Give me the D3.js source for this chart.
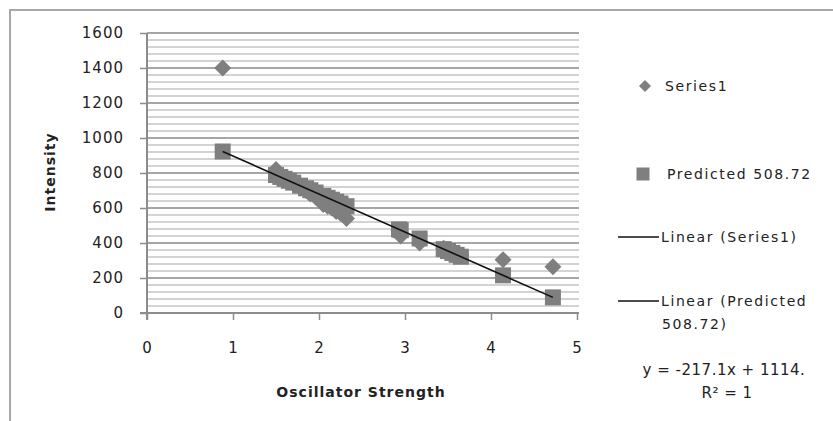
<!DOCTYPE html>
<html><head><meta charset="utf-8">
<script src="https://cdn.jsdelivr.net/npm/d3@7"></script>
<style>
body{margin:0;background:#fff;}
text{font-family:"DejaVu Sans",sans-serif;fill:#222;}
</style></head>
<body><svg id="c" width="833" height="421"></svg>
<script>
// Data
const oscStrength = [0.88, 1.50, 1.55, 1.60, 1.65, 1.70, 1.78, 1.85, 1.90, 1.96, 2.05, 2.10, 2.15, 2.20, 2.25, 2.32, 2.93, 2.95, 3.17, 3.45, 3.50, 3.55, 3.60, 3.65, 4.14, 4.72];
const intensity  = [1400, 820, 790, 770, 760, 740, 720, 700, 680, 663, 620, 610, 600, 580, 570, 540, 470, 440, 400, 370, 360, 350, 340, 330, 305, 265];
const slope = -217.1, intercept = 1114;
const predicted = oscStrength.map(x => slope * x + intercept);
const xTicks = [0, 1, 2, 3, 4, 5];
const yTicks = [0, 200, 400, 600, 800, 1000, 1200, 1400, 1600];
const yMinor = d3.range(0, 1601, 40);
const legendLabels = ["Series1", "Predicted 508.72", "Linear (Series1)", "Linear (Predicted", "508.72)"];
const eqLabels = ["y = -217.1x + 1114.", "R² = 1"];

const svg = d3.select("#c");
const L = 147, R = 577, T = 33, B = 313;
const x = d3.scaleLinear().domain([0, 5]).range([L, R]);
const y = d3.scaleLinear().domain([0, 1600]).range([B, T]);
const grey = "#7f7f7f";

// frame
svg.append("rect").attr("x", 10).attr("y", 10).attr("width", 900).attr("height", 500)
  .attr("fill", "none").attr("stroke", "#a8a8a8").attr("stroke-width", 2);

// minor grid
svg.append("g").selectAll("line").data(yMinor.filter(v => v % 200 !== 0)).join("line")
  .attr("x1", L).attr("x2", R + 2).attr("y1", d => y(d)).attr("y2", d => y(d))
  .attr("stroke", "#c4c4c4").attr("stroke-width", 1.5);
// major grid
svg.append("g").selectAll("line").data(yTicks.filter(v => v > 0)).join("line")
  .attr("x1", L).attr("x2", R + 2).attr("y1", d => y(d)).attr("y2", d => y(d))
  .attr("stroke", "#a6a6a6").attr("stroke-width", 2);

// axes
const yAxis = svg.append("g").attr("transform", `translate(${L},0)`)
  .call(d3.axisLeft(y).tickValues(yTicks).tickFormat(d3.format("d")).tickSize(7).tickPadding(16));
const xAxis = svg.append("g").attr("transform", `translate(0,${B})`)
  .call(d3.axisBottom(x).tickValues(xTicks).tickFormat(d3.format("d")).tickSize(7).tickPadding(22));
[yAxis, xAxis].forEach(a => {
  a.select(".domain").attr("stroke", "#8c8c8c").attr("stroke-width", 2);
  a.selectAll(".tick line").attr("stroke", "#8c8c8c").attr("stroke-width", 1.5);
  a.selectAll("text").attr("font-family", "DejaVu Sans").attr("font-size", 15)
    .attr("letter-spacing", 1).attr("fill", "#222");
});
xAxis.select(".domain").attr("d", `M${L - 7},0H${R + 2}`);
yAxis.select(".domain").attr("d", `M0,${T}V${B + 7}`);

// axis titles
svg.append("text").attr("x", 361).attr("y", 397).attr("text-anchor", "middle")
  .attr("font-weight", "bold").attr("font-size", 14).attr("letter-spacing", 1).text("Oscillator Strength");
svg.append("text").attr("transform", "translate(55,172) rotate(-90)").attr("text-anchor", "middle")
  .attr("font-weight", "bold").attr("font-size", 14).attr("letter-spacing", 1).text("Intensity");

const diamond = s => `M0,${-s}L${s},0L0,${s}L${-s},0Z`;
const square = s => `M${-s},${-s}H${s}V${s}H${-s}Z`;

// predicted squares
svg.append("g").selectAll("path").data(oscStrength).join("path")
  .attr("transform", (d, i) => `translate(${x(d)},${y(predicted[i])})`)
  .attr("d", square(8)).attr("fill", grey);
// series1 diamonds
svg.append("g").selectAll("path").data(oscStrength).join("path")
  .attr("transform", (d, i) => `translate(${x(d)},${y(intensity[i])})`)
  .attr("d", diamond(8.5)).attr("fill", grey);

// trend line
const xr = d3.extent(oscStrength);
svg.append("line").attr("x1", x(xr[0])).attr("y1", y(slope * xr[0] + intercept))
  .attr("x2", x(xr[1])).attr("y2", y(slope * xr[1] + intercept))
  .attr("stroke", "#111").attr("stroke-width", 1.6);

// legend
const lg = svg.append("g");
lg.append("path").attr("transform", "translate(645,86)").attr("d", diamond(6)).attr("fill", grey);
lg.append("path").attr("transform", "translate(643,174)").attr("d", square(6.5)).attr("fill", grey);
lg.append("line").attr("x1", 618).attr("x2", 659).attr("y1", 237).attr("y2", 237).attr("stroke", "#111").attr("stroke-width", 1.5);
lg.append("line").attr("x1", 618).attr("x2", 659).attr("y1", 301).attr("y2", 301).attr("stroke", "#111").attr("stroke-width", 1.5);
const lt = [[665, 86], [667, 174], [661, 237], [661, 301], [662, 324]];
lg.selectAll("text.l").data(legendLabels).join("text").attr("class", "l")
  .attr("x", (d, i) => lt[i][0]).attr("y", (d, i) => lt[i][1]).attr("dy", "0.35em")
  .attr("font-size", 14).attr("letter-spacing", 1.6).text(d => d);
lg.selectAll("text.e").data(eqLabels).join("text").attr("class", "e")
  .attr("x", (d, i) => i === 0 ? 724 : 727).attr("y", (d, i) => i === 0 ? 370 : 393).attr("dy", "0.35em")
  .attr("text-anchor", "middle").attr("font-size", 15).attr("letter-spacing", 0.5).text(d => d);
</script></body></html>
